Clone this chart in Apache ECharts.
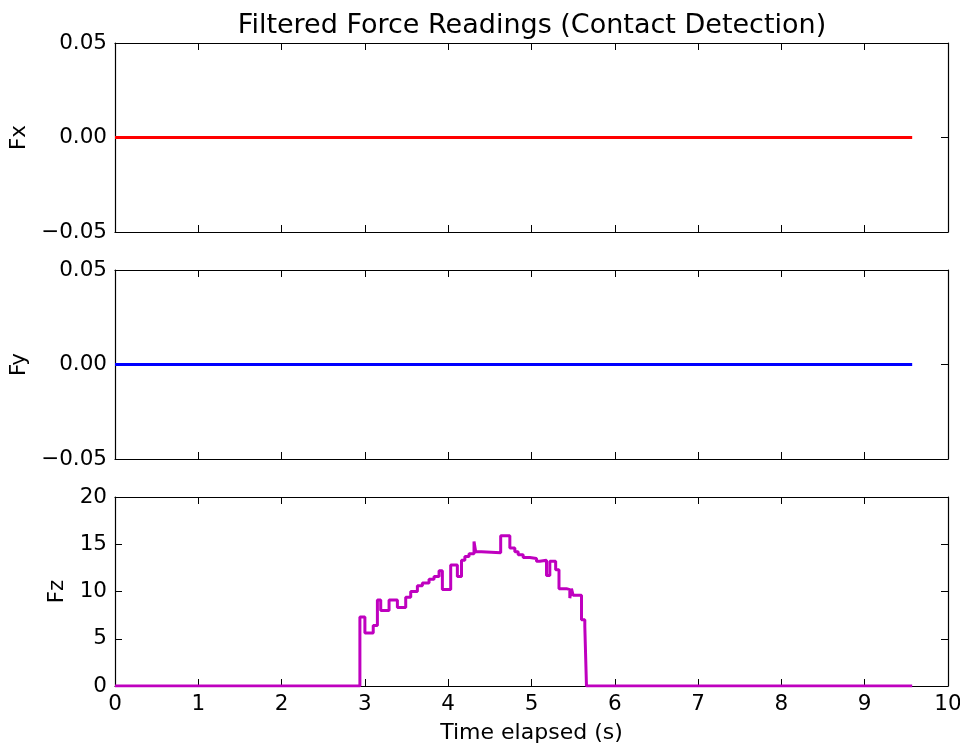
<!DOCTYPE html>
<html>
<head>
<meta charset="utf-8">
<script src="https://cdn.jsdelivr.net/npm/echarts@6/dist/echarts.min.js"></script>
<style>html,body{margin:0;padding:0;background:#fff}#c{width:960px;height:747px}</style>
</head>
<body>
<div id="c"></div>
<script>
// ---- data ----
var titleText = 'Filtered Force Readings (Contact Detection)';
var xLabel = 'Time elapsed (s)';
var panelNames = ['Fx', 'Fy', 'Fz'];
var fxT = [0, 9.57];
var fxV = [0, 0];
var fyT = [0, 9.57];
var fyV = [0, 0];
var fzT = [0, 2.94, 3.00, 3.10, 3.15, 3.19, 3.29, 3.39, 3.49, 3.55, 3.63, 3.69, 3.77, 3.83, 3.89, 3.93, 4.03, 4.11, 4.16, 4.20, 4.25, 4.31, 4.33, 4.40, 4.63, 4.74, 4.80, 4.84, 4.90, 4.98, 5.06, 5.10, 5.18, 5.22, 5.29, 5.33, 5.42, 5.46, 5.48, 5.50, 5.60, 5.64, 5.66, 9.57];
var fzV = [0, 7.3, 5.6, 6.4, 9.1, 8.0, 9.1, 8.3, 9.4, 10.0, 10.6, 10.9, 11.3, 11.6, 12.2, 10.2, 12.8, 11.6, 13.3, 13.7, 14.0, 15.3, 14.2, 14.1, 15.9, 14.6, 14.2, 13.9, 13.6, 13.5, 13.2, 13.3, 11.7, 13.2, 12.3, 10.3, 10.2, 9.3, 10.3, 9.6, 7.0, 6.3, 0, 0];
var xTicks = [0, 10, 1];
var smallTicks = [-0.05, 0.05, 0.05];
var fzTicks = [0, 20, 5];

function pairs(t, v) { return t.map(function (x, i) { return [x, v[i]]; }); }

var FONT = 'DejaVu Sans';
var FS = 21.5;
var black = '#000';
var gridTops = [43, 270, 497];
var gridH = 189;
var grids = gridTops.map(function (t) {
  return { left: 115, right: 12, top: t, height: gridH, containLabel: false, outerBoundsMode: 'none' };
});

var xAxes = [], yAxes = [];
for (var g = 0; g < 3; g++) {
  var showLab = (g === 2);
  xAxes.push({
    type: 'value', gridIndex: g, position: 'bottom', min: xTicks[0], max: xTicks[1], interval: xTicks[2],
    axisLine: { show: true, onZero: false, lineStyle: { color: black, width: 1.2 } },
    axisTick: { show: true, inside: true, length: 7, lineStyle: { color: black } },
    axisLabel: { show: showLab, color: black, fontFamily: FONT, fontSize: FS, margin: 7, hideOverlap: false },
    splitLine: { show: false },
    name: showLab ? xLabel : '', nameLocation: 'middle', nameGap: 36,
    nameTextStyle: { color: black, fontFamily: FONT, fontSize: 22 }
  });
  xAxes.push({
    type: 'value', gridIndex: g, position: 'top', min: xTicks[0], max: xTicks[1], interval: xTicks[2],
    axisLine: { show: true, onZero: false, lineStyle: { color: black, width: 1.2 } },
    axisTick: { show: true, inside: true, length: 7, lineStyle: { color: black } },
    axisLabel: { show: false }, splitLine: { show: false }
  });
  var tk = (g === 2) ? fzTicks : smallTicks;
  var fmt = (g === 2) ? function (v) { return String(Math.round(v)); }
                      : function (v) { return (Math.round(v * 100) / 100).toFixed(2).replace('-', '\u2212'); };
  yAxes.push({
    type: 'value', gridIndex: g, position: 'left', min: tk[0], max: tk[1], interval: tk[2],
    axisLine: { show: true, onZero: false, lineStyle: { color: black, width: 1.2 } },
    axisTick: { show: true, inside: true, length: 7, lineStyle: { color: black } },
    axisLabel: { show: true, color: black, fontFamily: FONT, fontSize: FS, margin: 8, formatter: fmt, hideOverlap: false },
    splitLine: { show: false },
    name: panelNames[g], nameLocation: 'middle', nameRotate: 90,
    nameGap: (g === 2) ? 45 : 84,
    nameTextStyle: { color: black, fontFamily: FONT, fontSize: FS }
  });
  yAxes.push({
    type: 'value', gridIndex: g, position: 'right', min: tk[0], max: tk[1], interval: tk[2],
    axisLine: { show: true, onZero: false, lineStyle: { color: black, width: 1.2 } },
    axisTick: { show: true, inside: true, length: 7, lineStyle: { color: black } },
    axisLabel: { show: false }, splitLine: { show: false }
  });
}

var option = {
  animation: false,
  backgroundColor: '#fff',
  title: {
    text: titleText, left: 527, top: 7, textAlign: 'center',
    textStyle: { color: black, fontFamily: FONT, fontSize: 27, fontWeight: 'normal' }
  },
  grid: grids,
  xAxis: xAxes,
  yAxis: yAxes,
  series: [
    { type: 'line', xAxisIndex: 0, yAxisIndex: 0, data: pairs(fxT, fxV), showSymbol: false, lineStyle: { color: '#ff0000', width: 3 }, z: 1 },
    { type: 'line', xAxisIndex: 2, yAxisIndex: 2, data: pairs(fyT, fyV), showSymbol: false, lineStyle: { color: '#0000ff', width: 3 }, z: 1 },
    { type: 'line', xAxisIndex: 4, yAxisIndex: 4, data: pairs(fzT, fzV), step: 'end', showSymbol: false, lineStyle: { color: '#bf00bf', width: 3 }, z: 1 }
  ]
};
var chart = echarts.init(document.getElementById('c'), null, { renderer: 'canvas' });
chart.setOption(option);
</script>
</body>
</html>
